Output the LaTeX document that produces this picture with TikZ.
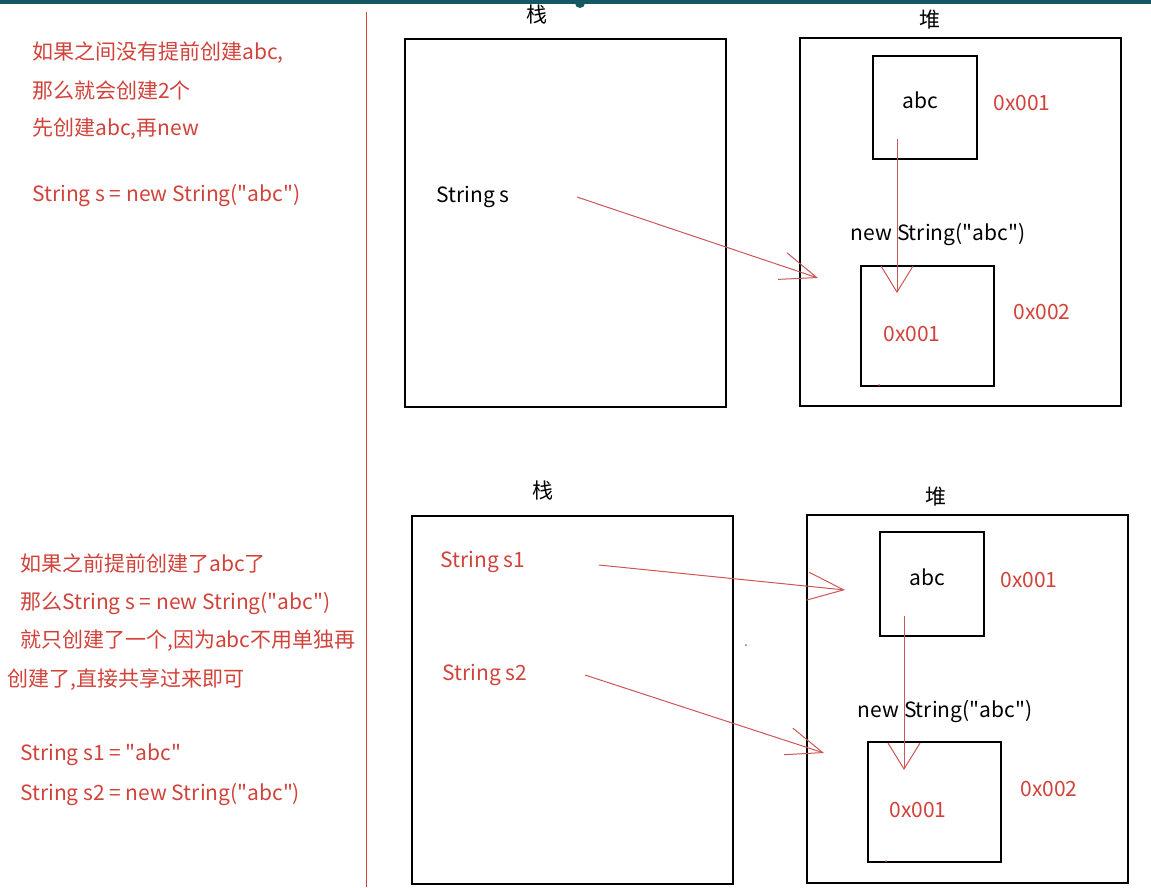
\documentclass[tikz,border=0pt]{standalone}
\usepackage{fontspec}
\setmainfont{Noto Sans CJK SC}
\setmonofont{Noto Sans CJK SC}
\usetikzlibrary{arrows.meta}

\definecolor{notered}{RGB}{208,66,58}
\definecolor{arrowred}{RGB}{205,85,85}
\definecolor{barteal}{RGB}{22,88,98}

\tikzset{
  box/.style={draw, line width=1.6pt, inner sep=0pt},
  note/.style={text=notered, anchor=west, inner sep=0pt, font=\ttfamily\fontsize{21}{25}\selectfont},
  word/.style={inner sep=0pt, font=\ttfamily\fontsize{21}{25}\selectfont},
  addr/.style={word, text=notered},
  ref/.style={draw=arrowred, line width=1pt, -{Straight Barb[length=36pt,width=28pt]}},
  down/.style={draw=arrowred, line width=1pt, -{Straight Barb[length=26pt,width=32pt]}},
}

\begin{document}
\begin{tikzpicture}[x=1pt, y=-1pt]
\useasboundingbox (0,0) rectangle (1151,887);

% top bar of the screen
\fill[barteal] (0,0) rectangle (1151,4);
\fill[barteal] (580,3) circle (5);

% divider
\draw[notered, line width=1pt] (366,12) -- (366,887);

%% upper case: abc not yet created
\node[note] (na1) at (32,53) {如果之间没有提前创建abc,};
\node[note] (na2) at (32,91) {那么就会创建2个};
\node[note] (na3) at (32,129) {先创建abc,再new};
\node[note] (na4) at (32,196) {String s = new String("abc")};

\node[word] (zhanA) at (537,15) {栈};
\node[box, minimum width=321pt, minimum height=368pt] (stackA) at (565.5,223) {};
\node[word] (duiA) at (930,20) {堆};
\node[box, minimum width=321pt, minimum height=368pt] (heapA) at (960.5,222) {};

\node[box, minimum width=104pt, minimum height=103pt] (abcA) at (925,107.5) {};
\node[word] (abcAt) at (920,100) {abc};
\node[addr] (adrA1) at (1022,103) {0x001};

\node[word] (sA) at (473,197) {String s};
\node[word] (newA) at (938,235) {new String("abc")};
\node[box, minimum width=133pt, minimum height=120pt] (objA) at (927.5,326) {};
\node[addr] (inA) at (912,334) {0x001};
\node[addr] (adrA2) at (1042,312) {0x002};

\coordinate (sA-tail) at (577,197);
\coordinate (sA-tip) at (818,278);
\draw[ref] (sA-tail) -- (sA-tip);
\coordinate (abcA-tail) at (897,139);
\coordinate (abcA-tip) at (897,293);
\draw[down] (abcA-tail) -- (abcA-tip);
\fill[arrowred] (879,385) circle (1);

%% lower case: abc already in the pool
\node[note] (nb1) at (20,563) {如果之前提前创建了abc了};
\node[note] (nb2) at (20,603) {那么String s = new String("abc")};
\node[note] (nb3) at (20,641) {就只创建了一个,因为abc不用单独再};
\node[note] (nb4) at (7,680) {创建了,直接共享过来即可};
\node[note] (nb5) at (20,755) {String s1 = "abc"};
\node[note] (nb6) at (20,795) {String s2 = new String("abc")};

\node[word] (zhanB) at (543,491) {栈};
\node[box, minimum width=321pt, minimum height=368pt] (stackB) at (572.5,700) {};
\node[word] (duiB) at (936,497) {堆};
\node[box, minimum width=321pt, minimum height=368pt] (heapB) at (967.5,699) {};

\node[box, minimum width=104pt, minimum height=104pt] (abcB) at (932,584) {};
\node[word] (abcBt) at (927,577) {abc};
\node[addr] (adrB1) at (1029,580) {0x001};

\node[addr] (s1B) at (483,562) {String s1};
\node[addr] (s2B) at (485,675) {String s2};
\node[word] (newB) at (945,712) {new String("abc")};
\node[box, minimum width=133pt, minimum height=120pt] (objB) at (934.5,802) {};
\node[addr] (inB) at (918,810) {0x001};
\node[addr] (adrB2) at (1049,789) {0x002};

\coordinate (s1B-tail) at (599,565);
\coordinate (s1B-tip) at (845,590);
\draw[ref] (s1B-tail) -- (s1B-tip);
\coordinate (s2B-tail) at (585,675);
\coordinate (s2B-tip) at (824,753);
\draw[ref] (s2B-tail) -- (s2B-tip);
\coordinate (abcB-tail) at (904,616);
\coordinate (abcB-tip) at (904,770);
\draw[down] (abcB-tail) -- (abcB-tip);
\fill[arrowred] (746,645) circle (1);
\fill[arrowred] (886,861) circle (1);

\end{tikzpicture}
\end{document}
